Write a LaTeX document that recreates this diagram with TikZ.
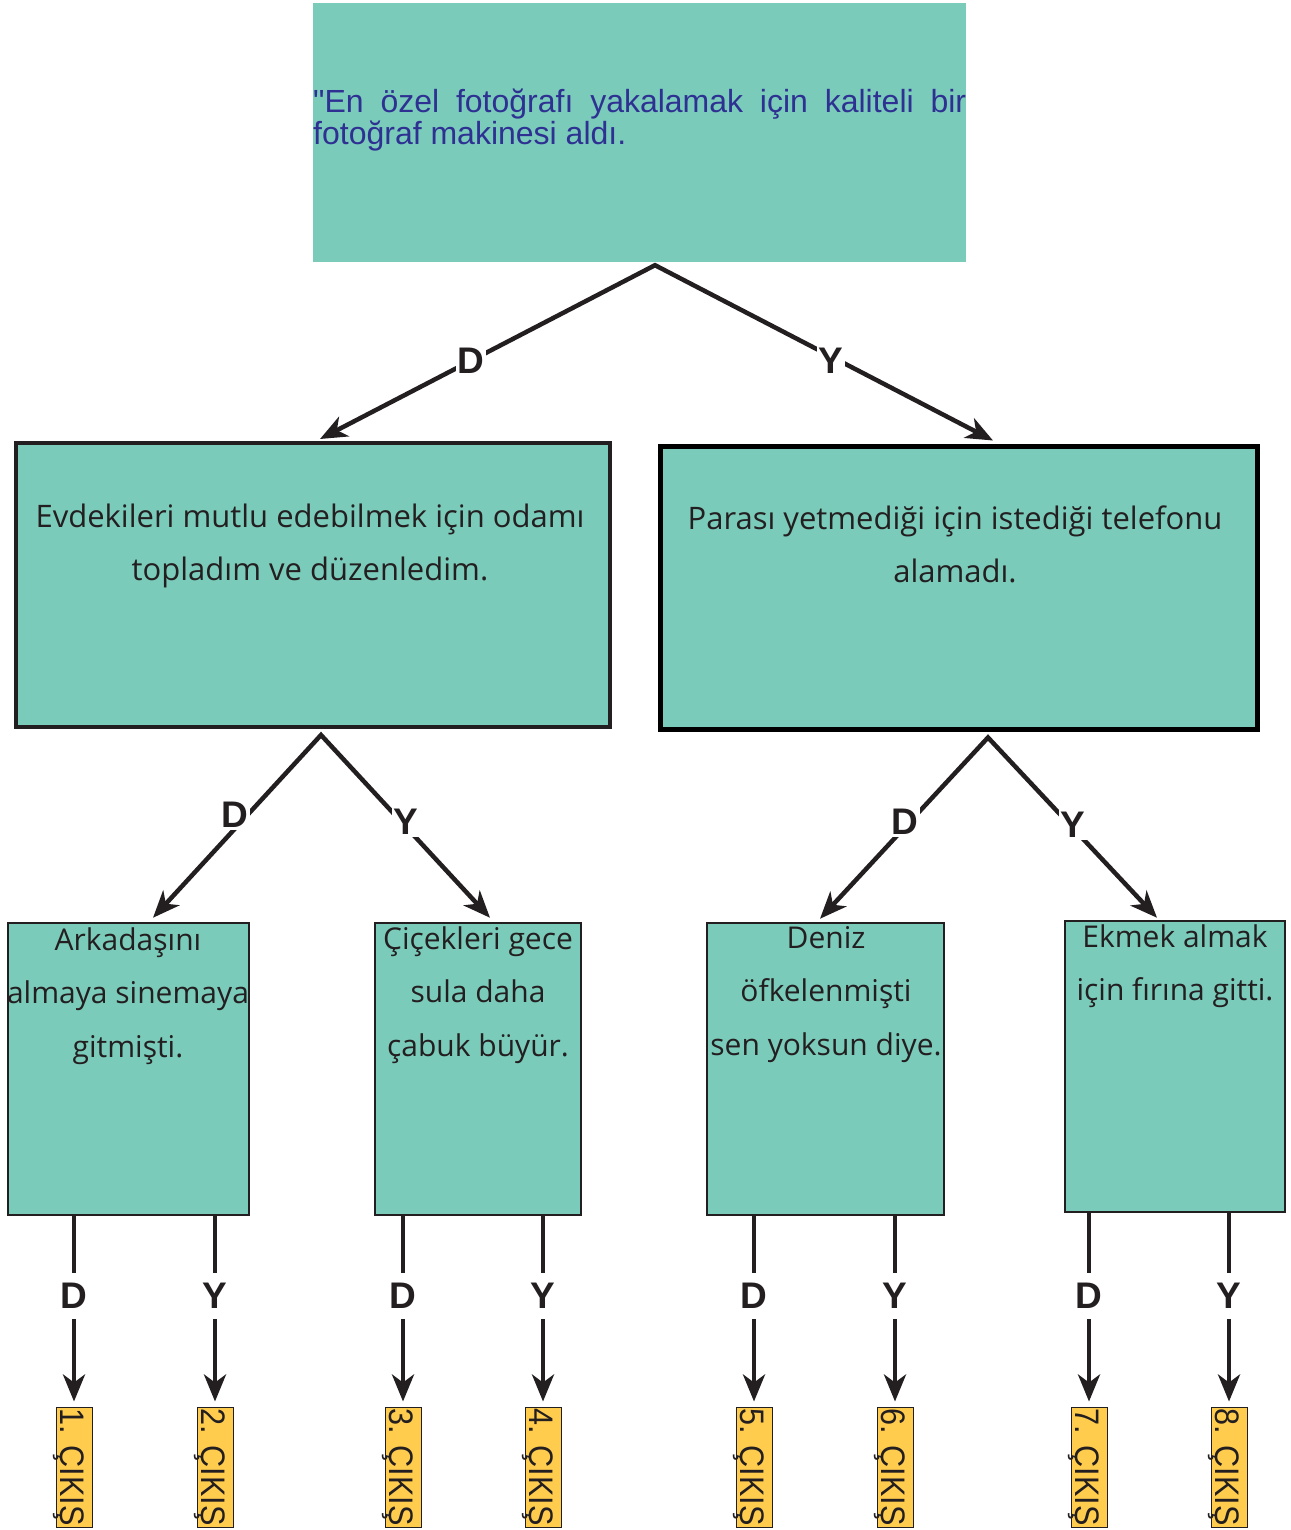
\documentclass[tikz,border=0pt]{standalone}
\usepackage{fontspec}
\setmainfont{Open Sans}
\newfontfamily\arialf{Liberation Sans}
\newfontfamily\arialnarrow[FakeStretch=0.9]{Liberation Sans}
\usetikzlibrary{arrows.meta,calc}
\definecolor{tealfill}{RGB}{123,203,187}
\definecolor{exitfill}{RGB}{255,204,78}
\definecolor{ink}{RGB}{35,31,32}
\definecolor{topblue}{RGB}{46,49,146}
\newcommand\boxtext[3]{\parbox[t]{#1}{\centering\fontsize{#2}{53.5}\selectfont #3}}
\begin{document}
\begin{tikzpicture}[x=1pt,y=-1pt,
  topbox/.style={fill=tealfill, minimum width=653pt, minimum height=259pt, inner sep=0pt},
  midbox/.style={draw=ink, line width=4pt, fill=tealfill, inner sep=0pt},
  leafbox/.style={draw=ink, line width=2.5pt, fill=tealfill, inner sep=0pt, minimum height=292pt},
  exitbox/.style={draw=ink, line width=1pt, fill=exitfill, minimum width=36pt, minimum height=120pt, inner sep=0pt},
  exittext/.style={rotate=-90, anchor=base west, inner sep=0pt, text=ink, font=\arialnarrow\fontsize{34}{34}\selectfont},
  tip/.tip={Stealth[length=27pt,width=22pt,inset=8pt]},
  conn/.style={draw=ink, line width=4.5pt, line join=miter, -tip},
  vee/.style={draw=ink, line width=4.5pt, line join=miter, tip-tip},
  lbl/.style={fill=white, text=ink, inner sep=2pt, font=\arialf\bfseries\fontsize{37}{37}\selectfont},
  vlbl/.style={lbl, inner ysep=10pt},
  txt/.style={anchor=base, inner sep=0pt, text=ink}]
\useasboundingbox (0,0) rectangle (1290,1530);

% top box
\node[topbox] (top) at (639.5,132.5) {};
\node[anchor=base west, inner sep=0pt, text=topblue] (toptext) at (313,113)
  {\parbox[t]{653pt}{\arialf\fontsize{32}{29}\selectfont "En özel fotoğrafı yakalamak için kaliteli bir\linebreak fotoğraf makinesi aldı.}};

% middle boxes
\node[midbox, minimum width=594pt, minimum height=284pt] (m1) at (313,585) {};
\node[txt] (m1t) at (310,527) {\boxtext{600pt}{31}{Evdekileri mutlu edebilmek için odamı\\topladım ve düzenledim.}};
\node[midbox, line width=5pt, draw=black, minimum width=597pt, minimum height=283pt] (m2) at (958.5,587.5) {};
\node[txt] (m2t) at (955,529) {\boxtext{600pt}{31}{Parası yetmediği için istediği telefonu\\alamadı.}};

% leaf boxes
\node[leafbox, minimum width=241pt] (b1) at (128.5,1069) {};
\node[txt] (b1t) at (128,950) {\boxtext{300pt}{30}{Arkadaşını\\almaya sinemaya\\gitmişti.}};
\node[leafbox, minimum width=206pt] (b2) at (478,1069) {};
\node[txt] (b2t) at (478,949) {\boxtext{300pt}{30}{Çiçekleri gece\\sula daha\\çabuk büyür.}};
\node[leafbox, minimum width=237pt] (b3) at (825.5,1069) {};
\node[txt] (b3t) at (826,948) {\boxtext{300pt}{30}{Deniz\\öfkelenmişti\\sen yoksun diye.}};
\node[leafbox, minimum width=220pt, minimum height=291pt] (b4) at (1175,1066.5) {};
\node[txt] (b4t) at (1175,947) {\boxtext{300pt}{30}{Ekmek almak\\için fırına gitti.}};

% top level connectors
\coordinate (a0) at ($(top.south)+(15.5,3)$);
\coordinate (m1in) at ($(m1.north)+(7,-2)$);
\coordinate (m2in) at ($(m2.north)+(34.5,-3)$);
\draw[vee] (m1in) -- (a0) -- (m2in);
\node[lbl] (l0d) at (471,361) {D};
\node[lbl] (l0y) at (831,361) {Y};

% middle level connectors
\coordinate (a1) at ($(m1.south)+(8,6)$);
\coordinate (b1in) at ($(b1.north)+(24.5,-4)$);
\coordinate (b2in) at ($(b2.north)+(12,-4)$);
\draw[vee] (b1in) -- (a1) -- (b2in);
\node[lbl] (l1d) at (235,815) {D};
\node[lbl] (l1y) at (406,822) {Y};

\coordinate (a2) at ($(m2.south)+(29.5,6)$);
\coordinate (b3in) at ($(b3.north)+(-5.5,-3)$);
\coordinate (b4in) at ($(b4.north)+(-18,-2)$);
\draw[vee] (b3in) -- (a2) -- (b4in);
\node[lbl] (l2d) at (905,822) {D};
\node[lbl] (l2y) at (1073,825) {Y};

% exits
\foreach \i/\x/\b/\l in {1/74/b1/D, 2/215/b1/Y, 3/403/b2/D, 4/543/b2/Y, 5/754/b3/D, 6/895/b3/Y, 7/1089/b4/D, 8/1229/b4/Y} {
  \node[exitbox] (e\i) at (\x,1467) {};
  \node[exittext] (t\i) at ($(e\i.north)+(-14,2)$) {\i. ÇIKIŞ};
  \draw[conn, shorten >=5pt] (\b.south -| e\i) -- (e\i.north);
  \node[vlbl] (l\i) at (\x,1296) {\l};
}
\end{tikzpicture}
\end{document}
